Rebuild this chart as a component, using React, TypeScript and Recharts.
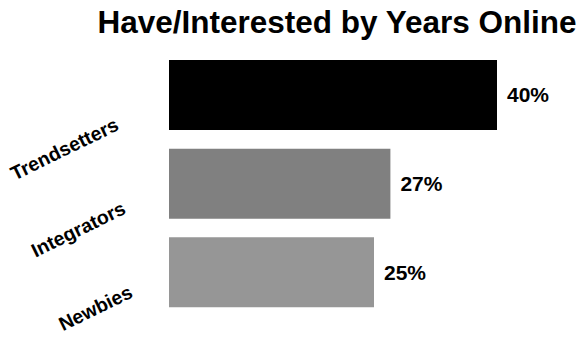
import React from 'react';
import { BarChart, Bar, XAxis, YAxis, Cell, LabelList } from 'recharts';

const categories = ['Trendsetters', 'Integrators', 'Newbies'];
const values = [40, 27, 25];
const barColors = ['#000000', '#808080', '#969696'];
const title = 'Have/Interested by Years Online';

const data = categories.map((name, i) => ({ name, value: values[i] }));

const FONT = '"Liberation Sans", Arial, Helvetica, sans-serif';

const CategoryTick = (props: any) => {
  const { x, y, payload, index } = props;
  const i = typeof index === 'number' ? index : payload.index ?? 0;
  // labels are staggered slightly to the right going down, as in the reference
  const ax = x - 49 + 7 * i;
  const ay = y + 34 - 5 * i;
  return (
    <text
      x={ax}
      y={ay}
      textAnchor="end"
      transform={`rotate(-26, ${ax}, ${ay})`}
      fontFamily={FONT}
      fontWeight="bold"
      fontSize={19.5}
      fill="#000"
    >
      {payload.value}
    </text>
  );
};

export default function App() {
  return (
    <div style={{ position: 'absolute', left: 0, top: 0, width: 582, height: 337, background: '#fff' }}>
      <div
        style={{
          position: 'absolute',
          left: 0,
          top: 7,
          width: 674,
          textAlign: 'center',
          fontFamily: FONT,
          fontWeight: 'bold',
          fontSize: 31.5,
          lineHeight: '31px',
          color: '#000',
          whiteSpace: 'nowrap',
        }}
      >
        {title}
      </div>
      <BarChart
        width={582}
        height={337}
        data={data}
        layout="vertical"
        margin={{ top: 51, right: 3, bottom: 20, left: 0 }}
        barSize={70}
      >
        <XAxis type="number" domain={[0, 50]} hide />
        <YAxis
          type="category"
          dataKey="name"
          width={169}
          axisLine={false}
          tickLine={false}
          tickSize={0}
          tickMargin={0}
          tick={<CategoryTick />}
        />
        <Bar dataKey="value" isAnimationActive={false}>
          {data.map((d, i) => (
            <Cell key={d.name} fill={barColors[i]} />
          ))}
          <LabelList
            dataKey="value"
            position="right"
            offset={10}
            formatter={(v: any) => `${v}%`}
            fontFamily={FONT}
            fontWeight="bold"
            fontSize={21}
            fill="#000"
          />
        </Bar>
      </BarChart>
    </div>
  );
}
